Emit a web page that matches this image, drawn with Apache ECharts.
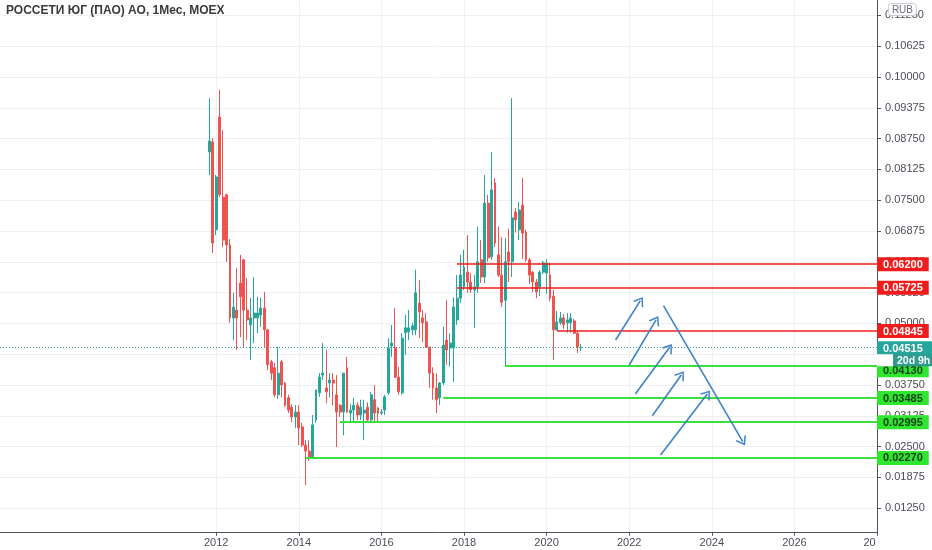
<!DOCTYPE html>
<html><head><meta charset="utf-8">
<script src="https://cdn.jsdelivr.net/npm/echarts@6/dist/echarts.min.js"></script>
<style>html,body{margin:0;padding:0;background:#fff}#c{width:932px;height:550px}</style>
</head><body><div id="c"></div>
<script>
// first monthly bar: 2011-11
const startYear = 2011, startMonth = 11;
const opens = [0.0848,0.0868,0.0690,0.0919,0.0756,0.0761,0.0659,0.0511,0.0527,0.0582,0.0629,0.0527,0.0497,0.0511,0.0511,0.0517,0.0531,0.0487,0.0422,
  0.0410,0.0355,0.0422,0.0379,0.0349,0.0330,0.0310,0.0320,0.0290,0.0253,0.0241,0.0229,0.0304,0.0359,0.0395,0.0369,0.0379,0.0385,0.0355,0.0334,0.0320,0.0410,
  0.0318,0.0324,0.0334,0.0314,0.0318,0.0330,0.0304,0.0345,0.0328,0.0318,0.0324,0.0359,0.0454,0.0450,0.0391,0.0359,0.0481,0.0483,0.0487,0.0487,0.0541,
  0.0511,0.0503,0.0452,0.0399,0.0369,0.0349,0.0379,0.0466,0.0450,0.0450,0.0507,0.0551,0.0574,0.0604,0.0584,0.0568,0.0574,0.0629,0.0594,0.0744,0.0635,
  0.0785,0.0639,0.0598,0.0547,0.0645,0.0625,0.0726,0.0690,0.0740,0.0685,0.0629,0.0604,0.0584,0.0574,0.0604,0.0602,0.0598,0.0555,0.0487,0.0501,0.0511,
  0.0501,0.0501,0.0505,0.0480,0.0450];
const closes = [0.0870,0.0663,0.0797,0.0761,0.0669,0.0659,0.0511,0.0533,0.0511,0.0554,0.0527,0.0507,0.0511,0.0521,0.0521,0.0531,0.0487,0.0416,0.0399,
  0.0355,0.0399,0.0375,0.0334,0.0324,0.0310,0.0320,0.0288,0.0253,0.0241,0.0229,0.0294,0.0365,0.0391,0.0399,0.0361,0.0385,0.0379,0.0320,0.0320,0.0399,0.0320,
  0.0324,0.0334,0.0314,0.0330,0.0324,0.0304,0.0355,0.0318,0.0318,0.0320,0.0351,0.0450,0.0460,0.0391,0.0361,0.0470,0.0491,0.0491,0.0495,0.0562,0.0523,
  0.0501,0.0452,0.0399,0.0369,0.0345,0.0379,0.0456,0.0446,0.0460,0.0533,0.0551,0.0598,0.0614,0.0584,0.0568,0.0574,0.0625,0.0594,0.0744,0.0633,0.0771,
  0.0663,0.0598,0.0543,0.0625,0.0625,0.0714,0.0710,0.0730,0.0683,0.0629,0.0598,0.0584,0.0564,0.0604,0.0623,0.0622,0.0551,0.0487,0.0503,0.0511,0.0497,
  0.0507,0.0511,0.0480,0.0452,0.04515];
const lows = [0.0801,0.0643,0.0679,0.0756,0.0655,0.0625,0.0501,0.0466,0.0446,0.0472,0.0452,0.0466,0.0426,0.0460,0.0480,0.0493,0.0452,0.0405,0.0385,
  0.0350,0.0347,0.0350,0.0330,0.0318,0.0300,0.0288,0.0253,0.0249,0.0172,0.0221,0.0227,0.0298,0.0351,0.0385,0.0338,0.0349,0.0334,0.0249,0.0310,0.0273,0.0318,
  0.0300,0.0300,0.0304,0.0304,0.0263,0.0300,0.0300,0.0300,0.0298,0.0314,0.0314,0.0355,0.0432,0.0389,0.0355,0.0355,0.0436,0.0466,0.0476,0.0476,0.0470,
  0.0462,0.0450,0.0369,0.0345,0.0318,0.0334,0.0375,0.0416,0.0412,0.0381,0.0497,0.0541,0.0568,0.0562,0.0562,0.0491,0.0562,0.0582,0.0582,0.0625,0.0629,
  0.0655,0.0594,0.0533,0.0413,0.0584,0.0594,0.0684,0.0669,0.0631,0.0625,0.0580,0.0564,0.0551,0.0556,0.0600,0.0560,0.0545,0.0426,0.0485,0.0497,0.0489,
  0.0481,0.0481,0.0478,0.0440,0.0444];
const highs = [0.0957,0.0876,0.0801,0.0974,0.0892,0.0763,0.0671,0.0562,0.0612,0.0639,0.0631,0.0592,0.0552,0.0594,0.0554,0.0552,0.0564,0.0487,0.0426,
  0.0420,0.0452,0.0426,0.0381,0.0355,0.0336,0.0334,0.0334,0.0298,0.0263,0.0263,0.0314,0.0365,0.0399,0.0460,0.0446,0.0399,0.0399,0.0395,0.0336,0.0399,0.0432,
  0.0336,0.0349,0.0340,0.0345,0.0345,0.0340,0.0361,0.0375,0.0330,0.0326,0.0355,0.0470,0.0497,0.0531,0.0412,0.0480,0.0517,0.0527,0.0501,0.0609,0.0588,
  0.0527,0.0521,0.0452,0.0411,0.0399,0.0381,0.0493,0.0547,0.0480,0.0553,0.0598,0.0639,0.0649,0.0679,0.0602,0.0598,0.0696,0.0669,0.0801,0.0761,0.0848,
  0.0795,0.0696,0.0675,0.0673,0.0692,0.0957,0.0734,0.0746,0.0795,0.0690,0.0633,0.0606,0.0590,0.0608,0.0627,0.0630,0.0623,0.0568,0.0525,0.0523,0.0519,
  0.0521,0.0521,0.0509,0.0483,0.0458];

const months = opens.map((_, i) => {
  const m = startMonth - 1 + i;
  return (startYear + Math.floor(m / 12)) + '-' + String(m % 12 + 1).padStart(2, '0');
});
const xTicks = [2012, 2014, 2016, 2018, 2020, 2022, 2024, 2026, 2028];
const yTicks = [0.0125, 0.01875, 0.025, 0.03125, 0.0375, 0.04375, 0.05, 0.05625, 0.0625,
  0.06875, 0.075, 0.08125, 0.0875, 0.09375, 0.1, 0.10625, 0.1125];

// horizontal levels drawn on the chart
const resistanceValues = [0.062, 0.05725, 0.04845];
const resistanceStarts = [2017.83, 2017.83, 2020.25];
const supportValues = [0.0413, 0.03485, 0.02995, 0.0227];
const supportStarts = [2019.0, 2017.5, 2015.0, 2014.17];
const lastPrice = 0.04515;
const timeLeft = '20d 9h';

// hand-drawn arrows (from -> to), [year, price]
const arrowFrom = [[2021.67, 0.04663], [2022.00, 0.04155], [2022.15, 0.03567], [2022.56, 0.03127], [2022.76, 0.02329], [2022.83, 0.05359]];
const arrowTo   = [[2022.27, 0.05460], [2022.65, 0.05069], [2022.97, 0.04506], [2023.26, 0.03953], [2023.89, 0.03567], [2024.75, 0.02599]];

const X_MIN = 2006.765, X_MAX = 2028, Y_MIN = 0.00752, Y_MAX = 0.11562;
const FONT = 'Liberation Sans, Arial, sans-serif';

const toX = s => { const [y, m] = s.split('-').map(Number); return y + (m - 1) / 12; };
const candles = months.map((m, i) => [toX(m), opens[i], closes[i], lows[i], highs[i]]);

const RED = '#f21c1c', GREEN = '#3be03b', GREEN_BOX = '#2ee62e', TEAL = '#26a69a', BLUE = '#3f82c5';
const chevron = 'path://M0,86 L50,0 L100,86 L88,92 L50,26 L12,92 Z';

// price-scale label box; shiftDown pushes the box below its line (label collision avoidance)
const levelLabel = (text, bg, fg, shiftDown) => ({
  show: true, position: 'end', distance: 0,
  padding: [shiftDown * 2, 0, 0, 0],
  formatter: '{t|' + text + '}',
  rich: { t: { backgroundColor: bg, color: fg, fontWeight: 'bold', fontSize: 11, lineHeight: 12,
               padding: [2, 6, 1, 6], fontFamily: FONT } }
});

const markData = [];
resistanceValues.forEach((v, i) => {
  markData.push([{ coord: [resistanceStarts[i], v], symbol: 'none',
    lineStyle: { color: RED, width: 1.5, type: 'solid' },
    label: levelLabel(v.toFixed(5), RED, '#fff', 0) },
    { coord: [X_MAX, v], symbol: 'none' }]);
});
supportValues.forEach((v, i) => {
  markData.push([{ coord: [supportStarts[i], v], symbol: 'none',
    lineStyle: { color: GREEN, width: 2, type: 'solid' },
    label: levelLabel(v.toFixed(5), GREEN_BOX, '#173d17', i === 0 ? 4 : 0) },
    { coord: [X_MAX, v], symbol: 'none' }]);
});
markData.push([{ coord: [X_MIN, lastPrice], symbol: 'none',
  lineStyle: { color: TEAL, width: 1, type: [1, 2] },
  label: { show: true, position: 'end', distance: 0, padding: [14, 0, 0, 0],
    formatter: '{a|' + lastPrice.toFixed(5) + '}\n{w| }{b|' + timeLeft + '}',
    rich: {
      a: { backgroundColor: TEAL, color: '#fff', fontWeight: 'bold', fontSize: 11, lineHeight: 12,
           padding: [2, 6, 1, 6], fontFamily: FONT, width: 43 },
      w: { backgroundColor: '#ffffff', width: 16, height: 12, lineHeight: 12, fontSize: 10.5, align: 'left' },
      b: { backgroundColor: '#2f9c91', color: '#fff', fontWeight: 'bold', fontSize: 10.5, lineHeight: 11,
           padding: [1, 4, 0, 4], fontFamily: FONT, align: 'right' }
    } } },
  { coord: [X_MAX, lastPrice], symbol: 'none' }]);
arrowFrom.forEach((p, i) => {
  markData.push([{ coord: p, symbol: 'none', lineStyle: { color: BLUE, width: 1.6, type: 'solid' }, label: { show: false } },
    { coord: arrowTo[i], symbol: chevron, symbolSize: [12, 9] }]);
});

const chart = echarts.init(document.getElementById('c'), null, { renderer: 'canvas' });
chart.setOption({
  animation: false,
  backgroundColor: '#ffffff',
  textStyle: { fontFamily: FONT },
  title: [
    { text: 'РОССЕТИ ЮГ (ПАО) АО, 1Мес, MOEX', left: 6, top: 5, padding: 0,
      textStyle: { fontSize: 12, fontWeight: 'bold', color: '#3a3a3a', fontFamily: FONT } },
    { text: 'RUB', right: 15, top: 3, padding: [2, 4, 1, 4], backgroundColor: '#fff',
      borderColor: '#c9ccd3', borderWidth: 1, borderRadius: 3,
      textStyle: { fontSize: 10, fontWeight: 'normal', color: '#6a6d78', fontFamily: FONT } }
  ],
  grid: { left: 0, right: 55, top: 0, bottom: 17.3 },
  xAxis: {
    type: 'value', min: X_MIN, max: X_MAX,
    axisLine: { show: true, lineStyle: { color: '#50535e', width: 1 } },
    axisTick: { show: true, customValues: xTicks, length: 3, lineStyle: { color: '#50535e' } },
    axisLabel: {
      customValues: xTicks, margin: 5, fontSize: 11, color: '#4a4d57', fontFamily: FONT,
      formatter: v => v === 2028 ? '{c|20}' : String(v),
      rich: { c: { fontSize: 11, color: '#4a4d57', fontFamily: FONT, padding: [0, 15, 0, 0] } }
    },
    splitLine: { show: true, lineStyle: { color: '#eceff3', width: 1 } }
  },
  yAxis: {
    type: 'value', position: 'right', min: Y_MIN, max: Y_MAX, scale: true,
    axisLine: { show: true, lineStyle: { color: '#50535e', width: 1 } },
    axisTick: { show: true, customValues: yTicks, length: 4, lineStyle: { color: '#50535e' } },
    axisLabel: { customValues: yTicks, margin: 8, fontSize: 11, color: '#4a4d57', fontFamily: FONT,
      formatter: v => v.toFixed(5) },
    splitLine: { show: true, lineStyle: { color: '#eceff3', width: 1 } }
  },
  series: [{
    type: 'candlestick',
    data: candles,
    encode: { x: 0, y: [1, 2, 3, 4] },
    barWidth: 2.4,
    itemStyle: { color: TEAL, color0: '#ef5350', borderColor: TEAL, borderColor0: '#ef5350', borderWidth: 1 },
    markLine: {
      silent: true, symbol: ['none', 'none'], animation: false,
      emphasis: { disabled: true },
      data: markData
    }
  }]
});
</script></body></html>
